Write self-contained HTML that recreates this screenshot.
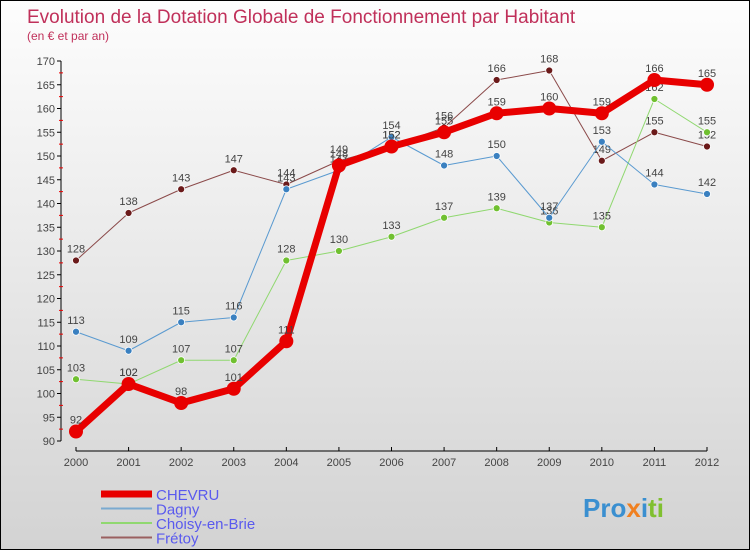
<!DOCTYPE html>
<html><head><meta charset="utf-8"><style>
body{margin:0}
#c{width:748px;height:548px;border:1px solid #000;background:linear-gradient(#fdfdfd,#d3d3d3);position:relative;font-family:"Liberation Sans",sans-serif}
</style></head><body>
<div id="c">
<svg id="s" width="748" height="548" xmlns="http://www.w3.org/2000/svg">
<text x="26" y="22" font-size="19" fill="#c0305a">Evolution de la Dotation Globale de Fonctionnement par Habitant</text>
<text x="26" y="39" font-size="12" fill="#c0305a">(en € et par an)</text>
<g id="axes"></g><g id="series"></g><g id="legend"></g>
<text x="582" y="516" font-size="26" font-weight="bold" fill="#3a8fd0">Pro<tspan fill="#f08020">x</tspan><tspan fill="#3a8fd0">i</tspan><tspan fill="#80c030">ti</tspan></text>
</svg></div>
<script>
const years=["2000","2001","2002","2003","2004","2005","2006","2007","2008","2009","2010","2011","2012"];
const yTicks=[90,95,100,105,110,115,120,125,130,135,140,145,150,155,160,165,170];
const chevru=[92,102,98,101,111,148,152,155,159,160,159,166,165];
const dagny=[113,109,115,116,143,147,154,148,150,137,153,144,142];
const choisy=[103,102,107,107,128,130,133,137,139,136,135,162,155];
const fretoy=[128,138,143,147,144,149,152,156,166,168,149,155,152];
const NS="http://www.w3.org/2000/svg";
const X=i=>75+i*(706-75)/12;
const Y=v=>440-(v-90)*380/80;
function mk(t,a,p){const e=document.createElementNS(NS,t);for(const k in a)e.setAttribute(k,a[k]);p.appendChild(e);return e;}
const ax=document.getElementById('axes');
const yl=mk('line',{x1:60,y1:60,x2:60,y2:440,stroke:'#000'},ax);


yTicks.forEach(v=>{
 mk('line',{x1:56,x2:60,y1:Y(v),y2:Y(v),stroke:'#000'},ax);
 const t=mk('text',{x:54,y:Y(v)+4,'text-anchor':'end','font-size':11,fill:'#444'},ax);t.textContent=v;
 
 
 if(v<170)mk('line',{x1:58,x2:62,y1:Y(v+2.5),y2:Y(v+2.5),stroke:'#e00'},ax);
});
const xl=mk('line',{x1:75,y1:450,x2:706,y2:450,stroke:'#000'},ax);


years.forEach((y,i)=>{
 mk('line',{x1:X(i),x2:X(i),y1:446,y2:450,stroke:'#000'},ax);
 const t=mk('text',{x:X(i),y:465,'text-anchor':'middle','font-size':11,fill:'#444'},ax);t.textContent=y;
 
 
});
const sg=document.getElementById('series');
function series(d,col,w,r,name,dot){
 const g=mk('g',{},sg);
 
 
 const p=mk('polyline',{points:d.map((v,i)=>X(i)+','+Y(v)).join(' '),fill:'none',stroke:col,'stroke-width':w,'stroke-linejoin':'round'},g);
 
 
 d.forEach((v,i)=>{
  const c=mk('circle',{cx:X(i),cy:Y(v),r:r,fill:dot,stroke:'#fff','stroke-width':r>5?0:0.8},g);
  
  
  const t=mk('text',{x:X(i),y:Y(v)-8,'text-anchor':'middle','font-size':11,fill:'#444'},g);t.textContent=v;
  
  
 });
}
series(fretoy,'#8b4a4a',1,3.5,'fretoy','#6b1a1a');
series(choisy,'#90d870',1,3.5,'choisy','#70c030');
series(dagny,'#5a9ad0',1,3.5,'dagny','#3a80c0');
series(chevru,'#e80000',7,7,'chevru','#e80000');
const lg=document.getElementById('legend');
[['CHEVRU','#e80000',7],['Dagny','#7aaad0',2],['Choisy-en-Brie','#90d870',2],['Frétoy','#9a6060',2]].forEach((e,i)=>{
 const y=493+i*14.5;
 const g=mk('g',{},lg);
 
 
 mk('line',{x1:100,x2:151,y1:y,y2:y,stroke:e[1],'stroke-width':e[2]},g);
 const t=mk('text',{x:155,y:y+6,'font-size':15,fill:'#5a5aee'},g);t.textContent=e[0];
});
</script>
</body></html>
